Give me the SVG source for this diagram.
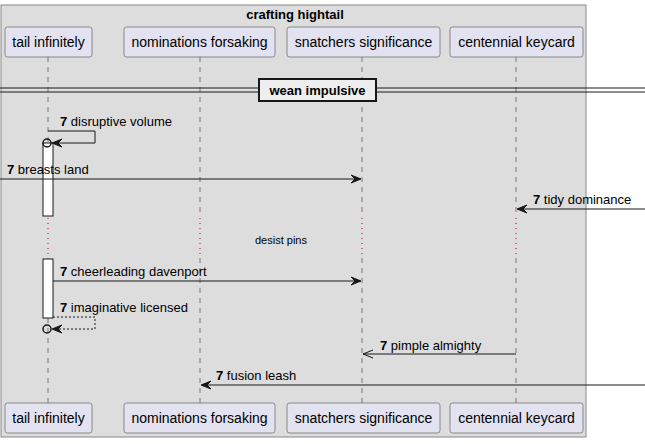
<svg xmlns="http://www.w3.org/2000/svg" width="645" height="444" viewBox="0 0 645 444">
<style>
.t{font-family:"Liberation Sans",Arial,sans-serif;fill:#000}
.p{font-size:14px}
.m{font-size:13px}
.b{font-weight:bold}
.box{fill:#E2E2F0;stroke:#888;stroke-width:1}
.life{stroke:#777;stroke-width:1;stroke-dasharray:5,5}
.msg{stroke:#181818;stroke-width:1;fill:none}
.dash{stroke-dasharray:2,2}
.dly{stroke:#A80036;stroke-width:1;stroke-dasharray:1,4}
.act{fill:#fff;stroke:#181818;stroke-width:1}
.ah{fill:#181818;stroke:#181818;stroke-width:1}
</style>
<rect x="1" y="5" width="585" height="432" fill="#DDDDDD" stroke="#888" stroke-width="1"/>
<text class="t b" x="295" y="19" font-size="13" text-anchor="middle">crafting hightail</text>

<g id="lifelines">
<line class="life" x1="48" y1="57" x2="48" y2="216"/>
<line class="life" x1="48" y1="258" x2="48" y2="403"/>
<line class="life" x1="200" y1="57" x2="200" y2="216"/>
<line class="life" x1="200" y1="258" x2="200" y2="403"/>
<line class="life" x1="362" y1="57" x2="362" y2="216"/>
<line class="life" x1="362" y1="258" x2="362" y2="403"/>
<line class="life" x1="516" y1="57" x2="516" y2="216"/>
<line class="life" x1="516" y1="258" x2="516" y2="403"/>
<line class="dly" x1="48" y1="218" x2="48" y2="258"/>
<line class="dly" x1="200" y1="218" x2="200" y2="258"/>
<line class="dly" x1="362" y1="218" x2="362" y2="258"/>
<line class="dly" x1="516" y1="218" x2="516" y2="258"/>
</g>

<g id="p1"><rect class="box" x="5" y="27" width="87" height="30" rx="2.5"/><text class="t p" x="48.5" y="47" text-anchor="middle">tail infinitely</text></g>
<g id="p2"><rect class="box" x="124" y="27" width="151" height="30" rx="2.5"/><text class="t p" x="199.5" y="47" text-anchor="middle">nominations forsaking</text></g>
<g id="p3"><rect class="box" x="287" y="27" width="153" height="30" rx="2.5"/><text class="t p" x="363.5" y="47" text-anchor="middle">snatchers significance</text></g>
<g id="p4"><rect class="box" x="450" y="27" width="133" height="30" rx="2.5"/><text class="t p" x="516.5" y="47" text-anchor="middle">centennial keycard</text></g>

<g id="p1b"><rect class="box" x="5" y="403" width="87" height="30" rx="2.5"/><text class="t p" x="48.5" y="423" text-anchor="middle">tail infinitely</text></g>
<g id="p2b"><rect class="box" x="124" y="403" width="151" height="30" rx="2.5"/><text class="t p" x="199.5" y="423" text-anchor="middle">nominations forsaking</text></g>
<g id="p3b"><rect class="box" x="287" y="403" width="153" height="30" rx="2.5"/><text class="t p" x="363.5" y="423" text-anchor="middle">snatchers significance</text></g>
<g id="p4b"><rect class="box" x="450" y="403" width="133" height="30" rx="2.5"/><text class="t p" x="516.5" y="423" text-anchor="middle">centennial keycard</text></g>

<g id="divider">
<line x1="0" y1="88" x2="645" y2="88" stroke="#181818" stroke-width="1"/>
<line x1="0" y1="92" x2="645" y2="92" stroke="#181818" stroke-width="1"/>
<rect x="259" y="79" width="117" height="22" fill="#EEEEEE" stroke="#181818" stroke-width="2"/>
<text class="t b" x="317.5" y="95" font-size="13" text-anchor="middle">wean impulsive</text>
</g>

<g id="activations">
<rect class="act" x="43" y="143" width="10" height="73"/>
<rect class="act" x="43" y="259" width="10" height="59"/>
</g>

<g id="connectors">
<!-- disruptive volume -->
<polyline class="msg" points="48,131 95,131 95,143 53,143"/>
<polygon class="ah" points="52,143 62,139 58,143 62,147"/>
<circle cx="47" cy="143" r="4" fill="none" stroke="#181818" stroke-width="1.5"/>
<text class="t m" x="60" y="126"><tspan class="b">7</tspan> disruptive volume</text>
<!-- breasts land -->
<line class="msg" x1="0" y1="179" x2="360" y2="179"/>
<polygon class="ah" points="361,179 351,175 355,179 351,183"/>
<text class="t m" x="7" y="174"><tspan class="b">7</tspan> breasts land</text>
<!-- tidy dominance -->
<line class="msg" x1="645" y1="209" x2="518" y2="209"/>
<polygon class="ah" points="517,209 527,205 523,209 527,213"/>
<text class="t m" x="533" y="204"><tspan class="b">7</tspan> tidy dominance</text>
<!-- delay -->
<text class="t" x="281" y="244" font-size="11" text-anchor="middle">desist pins</text>
<!-- cheerleading davenport -->
<line class="msg" x1="53" y1="281" x2="360" y2="281"/>
<polygon class="ah" points="361,281 351,277 355,281 351,285"/>
<text class="t m" x="60" y="276"><tspan class="b">7</tspan> cheerleading davenport</text>
<!-- imaginative licensed -->
<polyline class="msg dash" points="53,317 95,317 95,329 53,329"/>
<polygon class="ah" points="52,329 62,325 58,329 62,333"/>
<circle cx="47" cy="329" r="4" fill="none" stroke="#181818" stroke-width="1.5"/>
<text class="t m" x="60" y="312"><tspan class="b">7</tspan> imaginative licensed</text>
<!-- pimple almighty -->
<line class="msg" x1="516" y1="354" x2="363" y2="354"/>
<polyline class="msg" points="373,350 363,354 373,358"/>
<text class="t m" x="380" y="350"><tspan class="b">7</tspan> pimple almighty</text>
<!-- fusion leash -->
<line class="msg" x1="645" y1="385" x2="202" y2="385"/>
<polygon class="ah" points="201,385 211,381 207,385 211,389"/>
<text class="t m" x="216" y="380"><tspan class="b">7</tspan> fusion leash</text>
</g>
</svg>
